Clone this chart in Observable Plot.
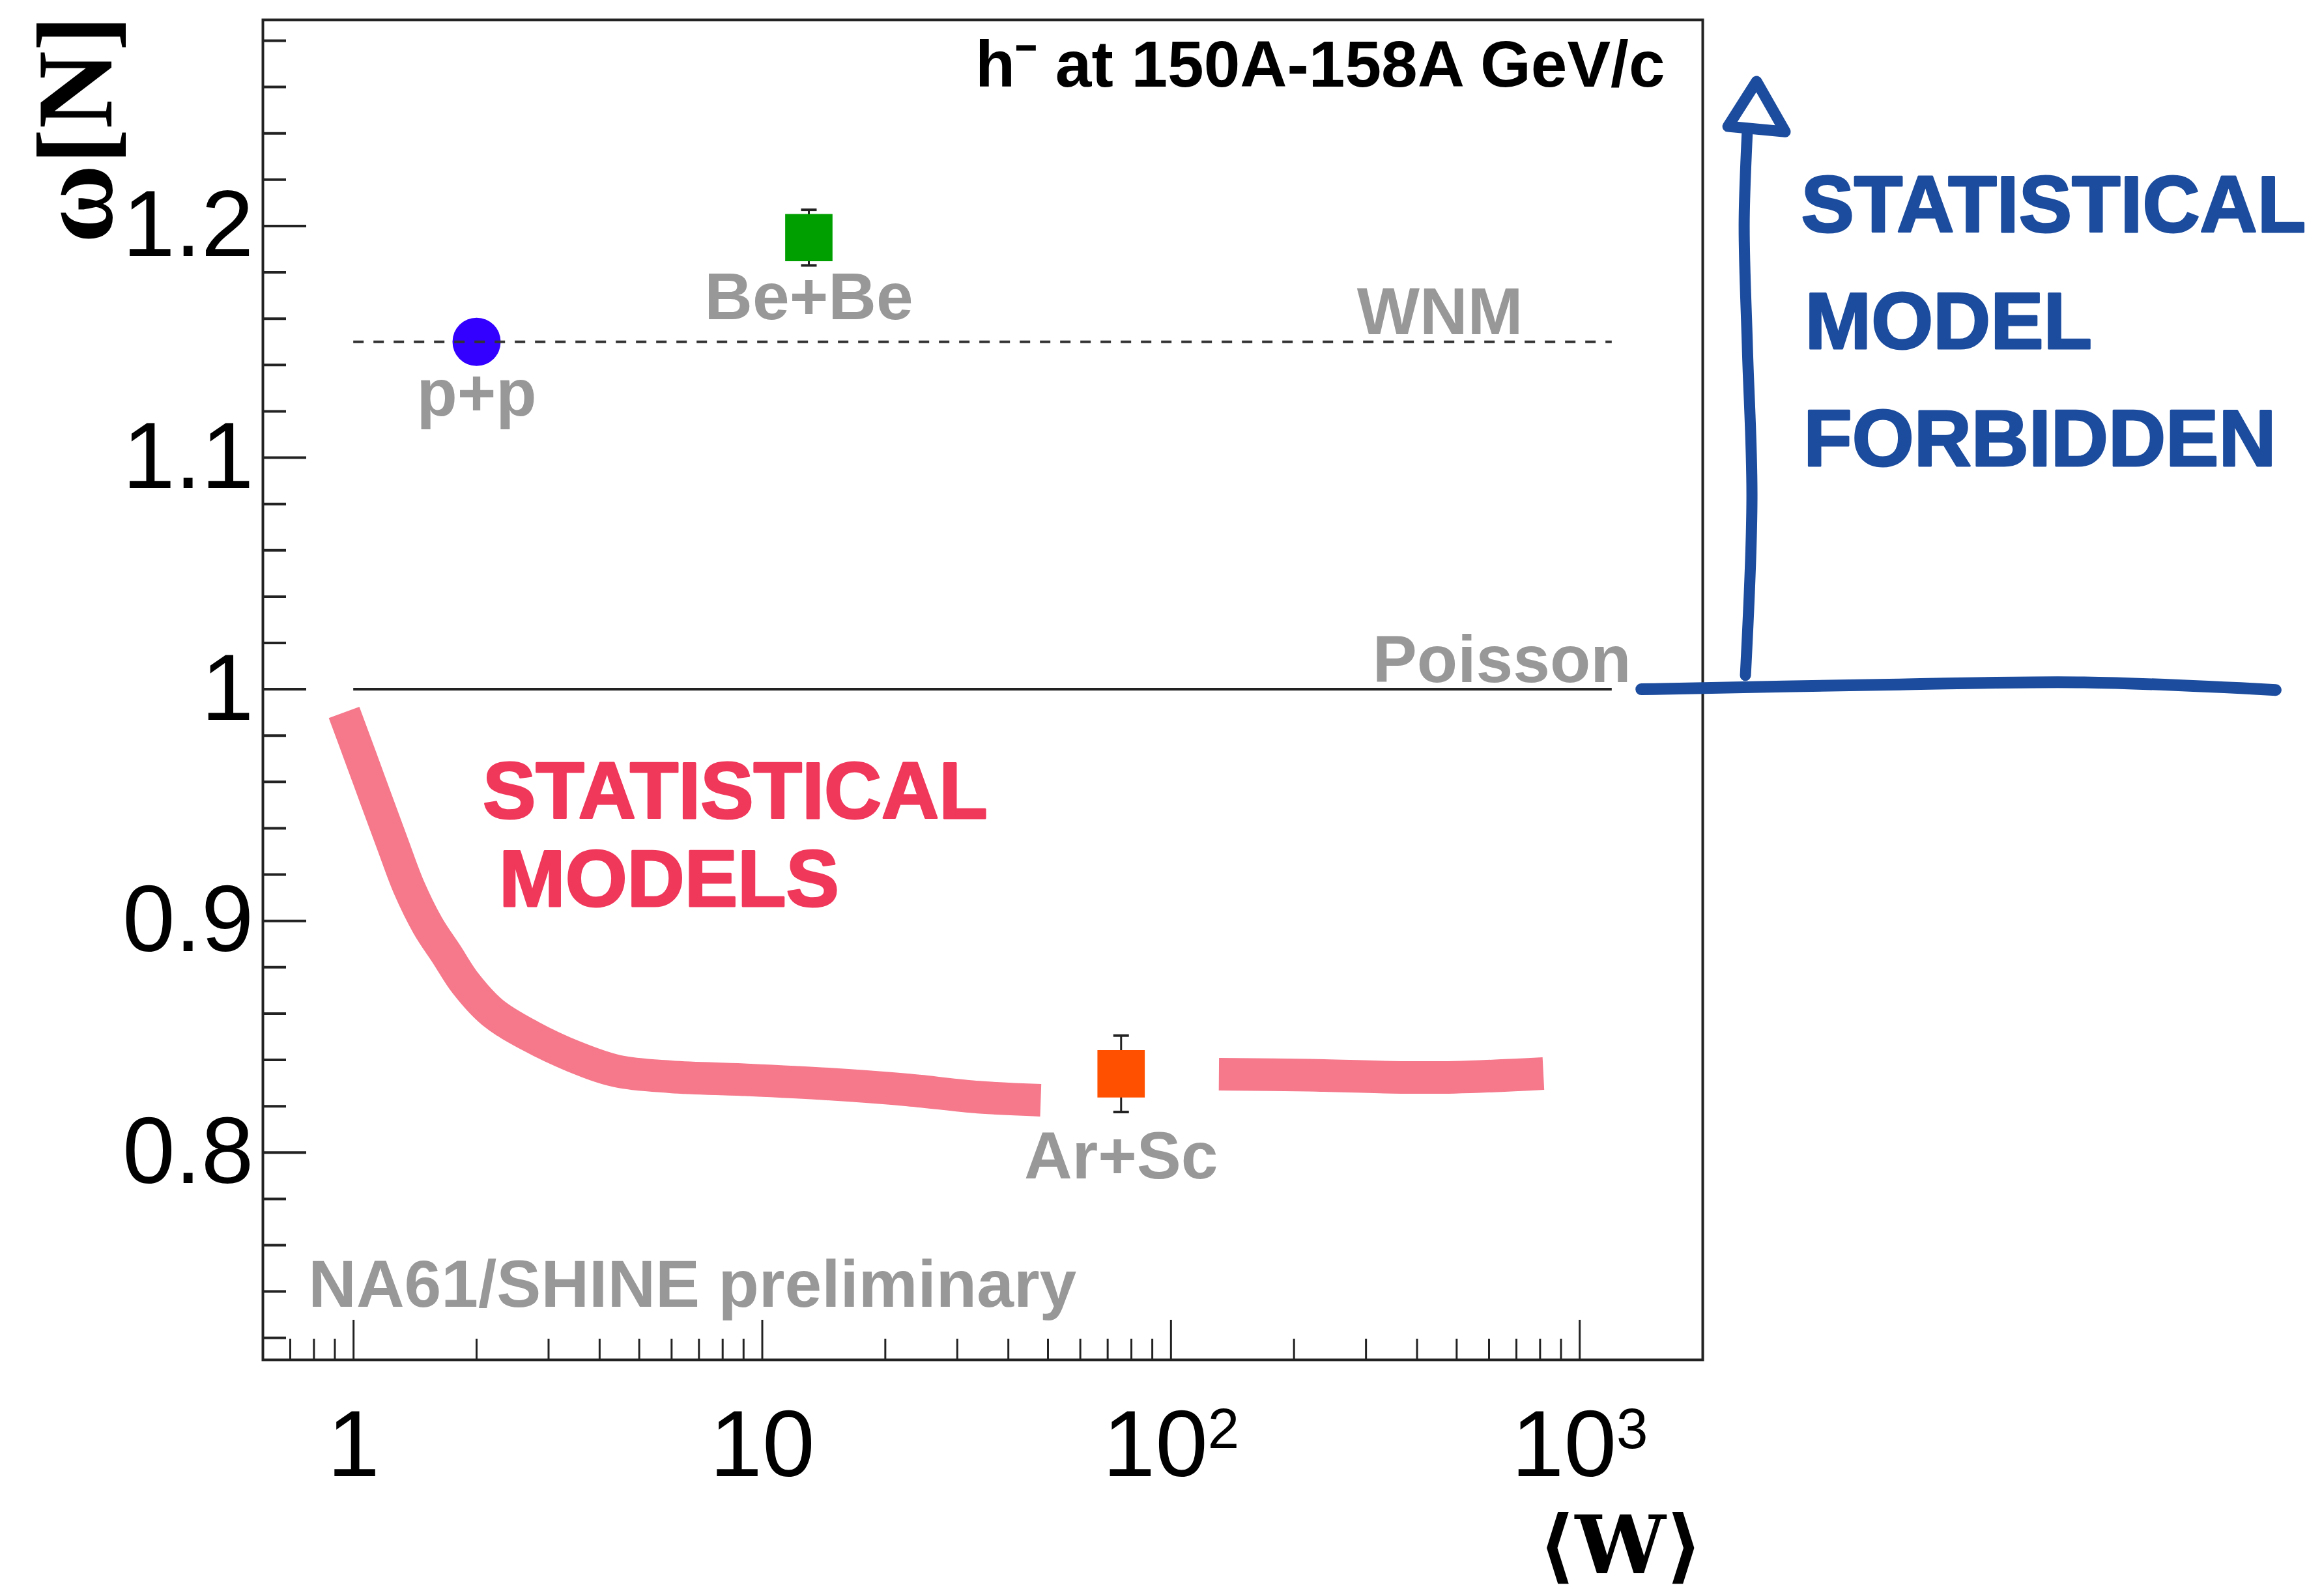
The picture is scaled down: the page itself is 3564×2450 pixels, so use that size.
<!DOCTYPE html>
<html>
<head>
<meta charset="utf-8">
<script src="https://cdn.jsdelivr.net/npm/d3@7"></script>
<script src="https://cdn.jsdelivr.net/npm/@observablehq/plot@0.6"></script>
<style>
  html, body { margin: 0; padding: 0; background: #fff; }
  #chart svg { display: block; }
</style>
</head>
<body>
<div id="chart"></div>
<script>
// ---------------- data ----------------
const systems   = ["p+p", "Be+Be", "Ar+Sc"];
const meanW     = [2, 13, 75.5];
const omegaN    = [1.15, 1.195, 0.834];
const omegaErr  = [0, 0.012, 0.0165];

const refLineNames = ["WNM", "Poisson"];
const refLineOmega = [1.15, 1.0];
const refLineFromW = [1, 1];
const refLineToW   = [1200, 1200];

// hand-drawn "statistical models" band (two strokes, gap around Ar+Sc)
const statModelW1     = [0.948, 1.039, 1.138, 1.247, 1.366, 1.519, 1.69, 1.88, 2.19, 2.709, 3.456, 4.404, 5.97, 9.14, 14.44, 22.8, 33.8, 48.0];
const statModelOmega1 = [0.990, 0.971, 0.952, 0.933, 0.9145, 0.898, 0.8855, 0.873, 0.8604, 0.8503, 0.8415, 0.8352, 0.8327, 0.8314, 0.8296, 0.827, 0.8239, 0.8226];
const statModelW2     = [131, 218, 348, 494, 815];
const statModelOmega2 = [0.8338, 0.8334, 0.8325, 0.8325, 0.8341];

const yTickValues = [0.8, 0.9, 1, 1.1, 1.2];
const yTickLabels = ["0.8", "0.9", "1", "1.1", "1.2"];
const xTickValues = [1, 10, 100, 1000];
const xTickLabels = ["1", "10", "10\u00B2", "10\u00B3"];

const labelTexts = ["p+p", "Be+Be", "Ar+Sc", "WNM", "Poisson"];
const labelW     = [2, 13, 75.5, 455, 645];
const labelOmega = [1.1274, 1.169, 0.798, 1.1625, 1.0124];

const noteText  = ["NA61/SHINE preliminary"];
const noteW     = [0.775];
const noteOmega = [0.7427];

const titleText  = ["h\u207B at 150A-158A GeV/c"];
const yAxisTitle = ["\u03C9[N]"];
const xAxisTitle = ["\u27E8W\u27E9"];

// hand-written annotations
const redNote      = ["STATISTICAL", "MODELS"];
const redNoteW     = [2.07, 2.27];
const redNoteOmega = [0.9553, 0.9173];

const blueNote      = ["STATISTICAL", "MODEL", "FORBIDDEN"];
const blueNoteW     = [3480, 3560, 3530];
const blueNoteOmega = [1.2084, 1.158, 1.1074];

const blueBaseW     = [1415, 5705, 17150, 50450];
const blueBaseOmega = [1.0, 1.002, 1.003, 0.9997];
const arrowShaftW     = [2544, 2639, 2573, 2526, 2573];
const arrowShaftOmega = [1.006, 1.0827, 1.147, 1.201, 1.242];
const arrowHeadW     = [2305, 2708, 3183, 2305];
const arrowHeadOmega = [1.243, 1.2624, 1.2407, 1.243];

// ---------------- tables built from the arrays ----------------
const points = systems.map((s, i) => ({s, w: meanW[i], o: omegaN[i], e: omegaErr[i]}));
const errPts = points.filter(d => d.e > 0);
const refLines = refLineNames.map((n, i) => ({n, w1: refLineFromW[i], w2: refLineToW[i], o: refLineOmega[i]}));
const statModel = [
  ...statModelW1.map((w, i) => ({w, o: statModelOmega1[i], seg: 1})),
  ...statModelW2.map((w, i) => ({w, o: statModelOmega2[i], seg: 2}))
];
const blueBase = blueBaseW.map((w, i) => ({w, o: blueBaseOmega[i]}));
const arrowShaft = arrowShaftW.map((w, i) => ({w, o: arrowShaftOmega[i]}));
const arrowHead = arrowHeadW.map((w, i) => ({w, o: arrowHeadOmega[i]}));

const yMinor = d3.range(36, 65).map(k => k / 50).filter(v => !yTickValues.some(t => Math.abs(t - v) < 1e-9));
const xMinor = [];
[0.1, 1, 10, 100].forEach(dec => { for (let m = 2; m <= 9; m++) { const v = m * dec; if (v > 0.6) xMinor.push(v); } });

// ---------------- style ----------------
const markerColor = {"p+p": "#3300ff", "Be+Be": "#009f00", "Ar+Sc": "#ff5000"};
const circlePts = points.filter(d => d.s === "p+p");
const squarePts = points.filter(d => d.s !== "p+p");
const sans = "'Liberation Sans', Arial, Helvetica, sans-serif";
const serif = "'Liberation Serif', 'DejaVu Serif', 'Times New Roman', serif";
const W = 3564, H = 2450;
const mT = 30, mR = 951, mB = 363, mL = 403;
const plotW = W - mL - mR, plotH = H - mT - mB;
const capSymbol = {draw(ctx, size) { const w = Math.sqrt(size / Math.PI); ctx.moveTo(-w, 0); ctx.lineTo(w, 0); }};

const chart = Plot.plot({
  width: W, height: H,
  marginTop: mT, marginRight: mR, marginBottom: mB, marginLeft: mL,
  x: {type: "log", domain: [0.6, 2000]},
  y: {domain: [0.7105, 1.289]},
  style: {fontFamily: sans, background: "#fff", color: "#000", overflow: "visible"},
  marks: [
    // Poisson reference line
    Plot.ruleY(refLines.filter(d => d.n === "Poisson"), {y: "o", x1: "w1", x2: "w2", stroke: "#222", strokeWidth: 4}),
    // statistical-model band
    Plot.line(statModel, {x: "w", y: "o", z: "seg", stroke: "#f5788b", strokeWidth: 50,
      strokeLinecap: "butt", strokeLinejoin: "round", curve: "catmull-rom"}),
    // gray labels
    Plot.text(labelTexts, {x: (d, i) => labelW[i], y: (d, i) => labelOmega[i], text: d => d,
      fill: "#989898", fontSize: 102, fontWeight: "bold", lineAnchor: "middle"}),
    Plot.text(noteText, {x: (d, i) => noteW[i], y: (d, i) => noteOmega[i], text: d => d,
      fill: "#989898", fontSize: 102, fontWeight: "bold", textAnchor: "start", lineAnchor: "middle"}),
    // error bars
    Plot.ruleX(errPts, {x: "w", y1: d => d.o - d.e, y2: d => d.o + d.e, stroke: "#222", strokeWidth: 3}),
    Plot.dot(errPts, {x: "w", y: d => d.o + d.e, symbol: capSymbol, r: 12, stroke: "#222", strokeWidth: 4, fill: "none"}),
    Plot.dot(errPts, {x: "w", y: d => d.o - d.e, symbol: capSymbol, r: 12, stroke: "#222", strokeWidth: 4, fill: "none"}),
    // markers
    Plot.dot(circlePts, {x: "w", y: "o", symbol: "circle", r: 37, fill: d => markerColor[d.s]}),
    Plot.dot(squarePts, {x: "w", y: "o", symbol: "square", r: 41, fill: d => markerColor[d.s]}),
    // WNM dashed reference line (drawn over the p+p marker)
    Plot.ruleY(refLines.filter(d => d.n === "WNM"), {y: "o", x1: "w1", x2: "w2", stroke: "#333", strokeWidth: 4, strokeDasharray: "16,15"}),
    // ticks (inside the frame)
    Plot.tickY(yTickValues, {y: d => d, insetRight: plotW - 67, stroke: "#222", strokeWidth: 4}),
    Plot.tickY(yMinor, {y: d => d, insetRight: plotW - 36, stroke: "#222", strokeWidth: 4}),
    Plot.tickX(xTickValues, {x: d => d, insetTop: plotH - 61, stroke: "#222", strokeWidth: 3}),
    Plot.tickX(xMinor, {x: d => d, insetTop: plotH - 32, stroke: "#222", strokeWidth: 3}),
    // tick labels
    Plot.axisY({ticks: yTickValues, tickSize: 0, tickPadding: 14, fontSize: 145, label: null,
      tickFormat: d => yTickLabels[yTickValues.indexOf(d)]}),
    Plot.axisX({ticks: xTickValues, tickSize: 0, tickPadding: 76, fontSize: 145, label: null,
      tickFormat: d => xTickLabels[xTickValues.indexOf(d)]}),
    // axis titles & header
    Plot.text(yAxisTitle, {text: d => d, frameAnchor: "top-left", rotate: -90, textAnchor: "end", lineAnchor: "middle",
      dx: -285, dy: -7, fontSize: 165, fontFamily: serif, fontWeight: "bold"}),
    Plot.text(xAxisTitle, {text: d => d, frameAnchor: "bottom-right", textAnchor: "end", lineAnchor: "middle",
      dx: 0, dy: 288, fontSize: 124, fontFamily: "'DejaVu Serif', serif", fontWeight: "bold"}),
    Plot.text(titleText, {text: d => d, frameAnchor: "top-right", textAnchor: "end", lineAnchor: "top",
      dx: -58, dy: 31, fontSize: 100, fontWeight: "bold"}),
    // frame
    Plot.frame({stroke: "#222", strokeWidth: 4}),
    // hand-written red note
    Plot.text(redNote, {x: (d, i) => redNoteW[i], y: (d, i) => redNoteOmega[i], text: d => d,
      fill: "#f0385b", stroke: "#f0385b", strokeWidth: 3, fontSize: 122, fontWeight: "bold",
      textAnchor: "start", lineAnchor: "middle"}),
    // hand-drawn blue annotation (outside the frame)
    Plot.line(blueBase, {x: "w", y: "o", stroke: "#1c4c9e", strokeWidth: 18, strokeLinecap: "round", curve: "catmull-rom"}),
    Plot.line(arrowShaft, {x: "w", y: "o", stroke: "#1c4c9e", strokeWidth: 17, strokeLinecap: "round", curve: "catmull-rom"}),
    Plot.line(arrowHead, {x: "w", y: "o", stroke: "#1c4c9e", strokeWidth: 17, strokeLinecap: "round", strokeLinejoin: "round"}),
    Plot.text(blueNote, {x: (d, i) => blueNoteW[i], y: (d, i) => blueNoteOmega[i], text: d => d,
      fill: "#1c4c9e", stroke: "#1c4c9e", strokeWidth: 3, fontSize: 122, fontWeight: "bold",
      textAnchor: "start", lineAnchor: "middle"})
  ]
});

// render the exponent of "10²", "10³" as a raised superscript (still real text)
const supDigits = {"\u00B2": "2", "\u00B3": "3"};
d3.select(chart).selectAll("text").each(function () {
  const t = this.textContent;
  const last = t.slice(-1);
  if (t.length > 1 && supDigits[last] && xTickLabels.includes(t)) {
    const sel = d3.select(this);
    sel.text(null);
    sel.append("tspan").text(t.slice(0, -1));
    sel.append("tspan").attr("dy", "-0.5em").attr("font-size", "0.6em").text(supDigits[last]);
  }
});

document.getElementById("chart").append(chart);
</script>
</body>
</html>
